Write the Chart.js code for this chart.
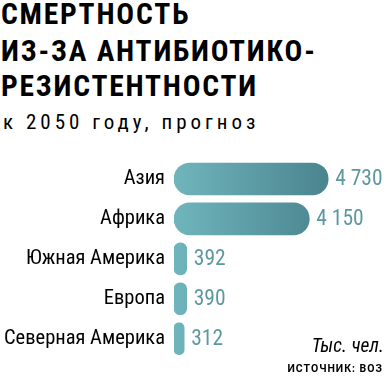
<!DOCTYPE html>
<html>
<head>
<meta charset="utf-8">
<script src="https://cdn.jsdelivr.net/npm/chart.js@4.4.0/dist/chart.umd.min.js"></script>
<style>
  html, body { margin: 0; padding: 0; background: #fff; }
  body { width: 387px; height: 378px; overflow: hidden; position: relative;
         font-family: "Roboto Condensed", "Roboto", sans-serif; }
  #wrap { position: absolute; left: 0; top: 0; width: 387px; height: 380px; }
  .title { position: absolute; left: 1px; font-weight: bold; font-size: 29.5px; line-height: 29.5px;
           letter-spacing: 1.8px; color: #000; white-space: nowrap; }
  .sub { position: absolute; left: 3px; top: 112px; font-size: 21px; line-height: 21px;
         letter-spacing: 4px; color: #000; white-space: nowrap; }
  .unit { position: absolute; right: 3px; top: 336px; font-size: 19.5px; line-height: 19.5px;
          font-style: italic; color: #000; white-space: nowrap; }
  .src { position: absolute; right: 4px; top: 364px; font-family: Roboto, sans-serif; font-size: 10.5px;
         line-height: 10.5px; font-weight: bold; letter-spacing: 1px; color: #000; white-space: nowrap; }
</style>
</head>
<body>
<div class="title" style="top:0px">СМЕРТНОСТЬ</div>
<div class="title" style="top:37px">ИЗ-ЗА АНТИБИОТИКО-</div>
<div class="title" style="top:72px">РЕЗИСТЕНТНОСТИ</div>
<div class="sub">к 2050 году, прогноз</div>
<div id="wrap"><canvas id="barChart" width="387" height="380"></canvas></div>
<div class="unit">Тыс. чел.</div>
<div class="src">ИСТОЧНИК: ВОЗ</div>
<script>
// data
const regions = ['Азия', 'Африка', 'Южная Америка', 'Европа', 'Северная Америка'];
const deaths = [4730, 4150, 392, 390, 312];
const valueLabels = ['4 730', '4 150', '392', '390', '312'];

const FONT = '"Roboto Condensed", Roboto, sans-serif';

// gradient goes from the left of the bars to the end of the longest one
function barFill(ctx) {
    const chart = ctx.chart;
    const area = chart.chartArea;
    if (!area || !chart.scales.x) return '#68aeb5';
    const x0 = area.left;
    const x1 = chart.scales.x.getPixelForValue(Math.max(...deaths));
    const g = chart.ctx.createLinearGradient(x0, 0, x1, 0);
    g.addColorStop(0, '#70b5bc');
    g.addColorStop(1, '#4a848f');
    return g;
}

// value labels after the bars
const valuePlugin = {
    id: 'valueLabels',
    afterDatasetsDraw(chart) {
        const c = chart.ctx;
        const meta = chart.getDatasetMeta(0);
        c.save();
        c.font = '21.5px ' + FONT;
        c.fillStyle = '#5d98a1';
        c.textAlign = 'left';
        c.textBaseline = 'middle';
        meta.data.forEach((bar, i) => {
            c.fillText(valueLabels[i], bar.x + 7, bar.y + 1);
        });
        c.restore();
    }
};

const config = {
    type: 'bar',
    data: {
        labels: regions,
        datasets: [{
            data: deaths,
            backgroundColor: barFill,
            borderRadius: 16,
            borderSkipped: false,
            barThickness: 32
        }]
    },
    options: {
        indexAxis: 'y',
        responsive: false,
        animation: false,
        layout: { padding: { top: 159, right: 50, left: 0, bottom: 0 } },
        plugins: {
            legend: { display: false },
            tooltip: { enabled: false }
        },
        scales: {
            x: {
                display: false,
                min: 0,
                max: 5000
            },
            y: {
                afterFit(scale) { scale.width = 174; },
                grid: { display: false, drawTicks: false },
                border: { display: false },
                ticks: {
                    color: '#000',
                    padding: 9,
                    font: { family: FONT, size: 20.5 }
                }
            }
        }
    },
    plugins: [valuePlugin]
};

const barChart = new Chart(document.getElementById('barChart'), config);
</script>
</body>
</html>
